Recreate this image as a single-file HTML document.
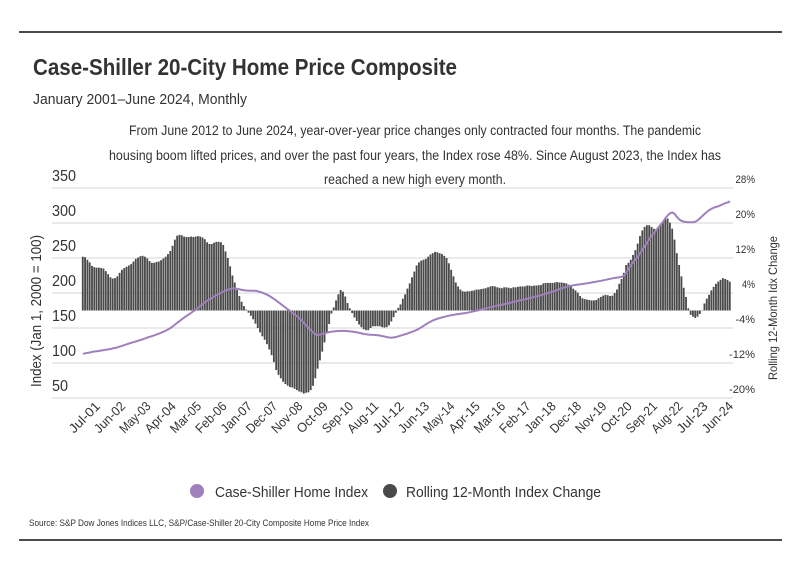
<!DOCTYPE html>
<html><head><meta charset="utf-8"><style>
body{margin:0;background:#fff;width:799px;height:575px;overflow:hidden;font-family:"Liberation Sans Narrow","Liberation Sans",sans-serif;}
svg text{font-family:"Liberation Sans Narrow","Liberation Sans",sans-serif;fill:#333;}
</style></head><body>
<svg id="chart" width="799" height="575" xmlns="http://www.w3.org/2000/svg">
<line x1="19" y1="32" x2="782" y2="32" stroke="#111" stroke-width="1.5"/>
<text x="33" y="75" font-size="23" font-weight="bold" fill="#333" textLength="424" lengthAdjust="spacingAndGlyphs">Case-Shiller 20-City Home Price Composite</text>
<text x="33" y="104" font-size="15" textLength="214" lengthAdjust="spacingAndGlyphs">January 2001–June 2024, Monthly</text>
<g font-size="13.5" text-anchor="middle">
<text x="415" y="135" textLength="572" lengthAdjust="spacingAndGlyphs">From June 2012 to June 2024, year-over-year price changes only contracted four months. The pandemic</text>
<text x="415" y="160" textLength="612" lengthAdjust="spacingAndGlyphs">housing boom lifted prices, and over the past four years, the Index rose 48%. Since August 2023, the Index has</text>
<text x="415" y="184" textLength="182" lengthAdjust="spacingAndGlyphs">reached a new high every month.</text>
</g>
<g id="grid"></g><g id="bars"></g><g id="line"></g><g id="axes"></g>
<text transform="translate(41,311) rotate(-90)" font-size="15" text-anchor="middle" textLength="152" lengthAdjust="spacingAndGlyphs">Index (Jan 1, 2000 = 100)</text>
<text transform="translate(777,308) rotate(-90)" font-size="12" text-anchor="middle" textLength="144" lengthAdjust="spacingAndGlyphs">Rolling 12-Month Idx Change</text>
<g>
<circle cx="197" cy="491" r="7" fill="#9e80bd"/>
<text x="215" y="497" font-size="15" textLength="153" lengthAdjust="spacingAndGlyphs">Case-Shiller Home Index</text>
<circle cx="390" cy="491" r="7" fill="#4a4a4a"/>
<text x="406" y="497" font-size="15" textLength="195" lengthAdjust="spacingAndGlyphs">Rolling 12-Month Index Change</text>
</g>
<text x="29" y="526" font-size="9.5" textLength="340" lengthAdjust="spacingAndGlyphs">Source:  S&amp;P Dow Jones Indices LLC, S&amp;P/Case-Shiller 20-City Composite Home Price Index</text>
<line x1="19" y1="540" x2="782" y2="540" stroke="#111" stroke-width="1.5"/>
</svg>
<script>
const leftTicks=[50,100,150,200,250,300,350];
const rightTicks=["-20%","-12%","-4%","4%","12%","20%","28%"];
const rightTickValues=[-20,-12,-4,4,12,20,28];
const xLabels=["Jul-01","Jun-02","May-03","Apr-04","Mar-05","Feb-06","Jan-07","Dec-07","Nov-08","Oct-09","Sep-10","Aug-11","Jul-12","Jun-13","May-14","Apr-15","Mar-16","Feb-17","Jan-18","Dec-18","Nov-19","Oct-20","Sep-21","Aug-22","Jul-23","Jun-24"];
const yoyChange=[
12.3,12.2,11.6,11,10.2,9.9,9.8,9.8,9.7,9.6,9.0,8.3,
7.6,7.3,7.4,7.8,8.6,9.3,9.7,10.0,10.3,10.6,11.2,11.8,
12.1,12.4,12.5,12.3,11.9,11.3,10.9,10.9,11.1,11.2,11.5,11.9,
12.3,12.9,13.6,14.8,16.2,17.1,17.3,17.2,16.9,16.8,16.8,16.9,
16.8,16.9,17.0,16.9,16.7,16.3,15.6,15.2,15.2,15.5,15.7,15.7,
15.6,15.0,13.5,12.0,10.1,8.0,6.4,4.7,3.3,2.0,1.0,0.2,
-0.5,-1.2,-2.0,-3.0,-4.0,-5.0,-5.9,-6.7,-7.7,-8.9,-10.2,-11.8,
-13.6,-14.7,-15.5,-16.3,-16.8,-17.2,-17.5,-17.6,-17.9,-18.2,-18.5,-18.7,
-19.0,-18.8,-18.7,-18.2,-17.2,-15.5,-13.3,-11.4,-9.4,-7.3,-5.1,-3.1,
-0.7,0.7,2.3,3.7,4.7,4.3,3.2,1.7,0.5,-0.6,-1.6,-2.4,
-3.2,-3.8,-4.3,-4.5,-4.5,-4.0,-3.6,-3.6,-3.6,-3.6,-3.8,-3.9,
-3.8,-3.4,-2.5,-1.5,-0.5,0.6,1.4,2.7,3.7,5.0,6.2,7.6,
8.9,10.3,11.0,11.4,11.6,11.8,12.3,12.8,13.1,13.4,13.3,13.1,
12.9,12.5,12.0,10.8,9.3,7.8,6.4,5.5,4.8,4.4,4.3,4.4,
4.4,4.5,4.6,4.8,4.8,4.9,5.0,5.1,5.3,5.5,5.6,5.5,
5.3,5.2,5.1,5.3,5.3,5.2,5.1,5.3,5.3,5.4,5.5,5.5,
5.5,5.7,5.7,5.6,5.7,5.7,5.8,5.8,6.2,6.3,6.3,6.3,
6.3,6.4,6.5,6.4,6.4,6.3,6.2,5.9,5.5,5.0,4.6,4.1,
3.3,2.8,2.6,2.5,2.4,2.3,2.3,2.4,2.8,3.1,3.4,3.6,
3.5,3.3,3.4,4.0,4.8,6.1,7.2,8.6,10.4,10.9,11.6,12.7,
13.8,15.3,17.0,18.3,19.1,19.5,19.5,19.1,18.7,18.6,18.9,19.6,
20.4,21.1,21.0,20.1,18.7,16.2,13.1,10.4,7.8,5.2,3.1,0.5,
-1.0,-1.4,-1.7,-1.4,-0.8,0.1,1.6,2.7,3.6,4.6,5.4,6.1,
6.6,7.0,7.4,7.2,7.0,6.6];
const indexValues=[
113,113.8,114.5,115,115.8,116.4,116.8,117.3,117.9,118.5,119,119.5,
120,120.8,121.6,122.5,123.5,124.5,125.6,126.7,127.8,128.8,129.8,130.8,
131.8,132.9,134,135.2,136.4,137.5,138.5,139.6,140.8,142,143.3,144.8,
146.3,148,150,152.4,155,157.6,160.2,162.6,165,167.3,169.5,171.7,
174,176.3,178.8,181.5,184.2,186.8,189,191,193,195,197,198.8,
200.5,202,203.5,204.8,205.8,206.5,206.5,206,205.2,204.5,204,203.6,
203.4,203.3,203.3,203.2,202.5,201.4,200.3,199,197.5,195.7,193.6,191.3,
189,186.5,184,181.5,179,176.6,174.2,171.8,169.3,166.6,163.8,161,
157,153.5,150,146.5,143.5,141,140,140.5,141.5,142.5,143.5,144.2,
144.8,145.2,145.5,145.7,145.8,145.8,145.7,145.5,145.2,144.8,144.3,143.7,
143,142.3,141.6,141,140.6,140.3,140.1,140,139.7,139.2,138.5,137.8,
137,136.4,136.2,136.5,137.2,138.2,139.2,140.2,141.2,142.3,143.5,144.7,
146,147.5,149.2,151.2,153.3,155.4,157.4,159.2,160.8,162.2,163.3,164.3,
165.2,166,166.8,167.6,168.3,168.9,169.5,170,170.4,170.8,171.3,171.9,
172.6,173.3,174,174.8,175.6,176.4,177.2,178,178.8,179.6,180.4,181.2,
182,182.7,183.4,184.1,184.9,185.6,186.4,187.2,188,188.8,189.6,190.4,
191.2,192,192.8,193.6,194.4,195.2,196.1,197,198,199,200,201,
202,203.2,204.4,205.6,206.8,207.9,208.9,209.7,210.4,211,211.5,212,
212.4,212.9,213.4,213.9,214.5,215.1,215.7,216.3,216.9,217.5,218.2,218.9,
219.6,220.3,221,221.6,222,222.5,223.2,225,229,235,240,244,
248,252,257,262,267,272,277,282,286,290,294,298,
302,307,311,314,315,313,308.5,305,303,302,301.5,301,
301,301,302,304,307,310,313,316,318.5,320.5,322,323,
324,325.5,327,328.5,329.5,331];

const NS="http://www.w3.org/2000/svg";
const X0=83,X1=730,n=yoyChange.length;
const step=(X1-X0)/(n-1);
const xPos=i=>X0+i*step;
const yLeft=v=>363-(v-100)*0.7;
const yRight=p=>310.5-p*35/8;
function mk(tag,parent){const e=document.createElementNS(NS,tag);document.getElementById(parent).appendChild(e);return e;}

leftTicks.forEach((t,i)=>{
 const y=yLeft(t);
 const g=mk('line','grid');
 
 
 g.setAttribute('x1',52);g.setAttribute('x2',733);g.setAttribute('y1',y);g.setAttribute('y2',y);
 g.setAttribute('stroke','#d6d6d6');g.setAttribute('stroke-width','1');
 const tx=mk('text','axes');
 
 
 tx.setAttribute('x',52);tx.setAttribute('y',y-7);tx.setAttribute('font-size','16');
 tx.setAttribute('textLength',String(t).length*8);tx.setAttribute('lengthAdjust','spacingAndGlyphs');
 tx.textContent=t;
});
rightTickValues.forEach((p,i)=>{
 const tx=mk('text','axes');
 
 
 tx.setAttribute('x',755);tx.setAttribute('y',yRight(p)-5);tx.setAttribute('font-size','11');tx.setAttribute('text-anchor','end');
 tx.setAttribute('textLength',rightTicks[i].length*6.5);tx.setAttribute('lengthAdjust','spacingAndGlyphs');
 tx.textContent=rightTicks[i];
});
yoyChange.forEach((v,i)=>{
 const r=mk('rect','bars');
 
 
 const y0=yRight(0),y1=yRight(v);
 r.setAttribute('x',xPos(i)-step/2);r.setAttribute('width',step*0.8);
 r.setAttribute('y',Math.min(y0,y1));r.setAttribute('height',Math.abs(y1-y0));
 r.setAttribute('fill','#4a4a4a');
});
const pl=mk('polyline','line');


pl.setAttribute('points',indexValues.map((v,i)=>xPos(i).toFixed(1)+','+yLeft(v).toFixed(1)).join(' '));
pl.setAttribute('fill','none');pl.setAttribute('stroke','#9e80bd');pl.setAttribute('stroke-width','2');
xLabels.forEach((l,k)=>{
 const i=6+k*11;
 const tx=mk('text','axes');
 
 
 const x=xPos(i)+4,y=407;
 tx.setAttribute('transform','translate('+x+','+y+') rotate(-45)');
 tx.setAttribute('text-anchor','end');tx.setAttribute('font-size','13');
 tx.setAttribute('textLength',38);tx.setAttribute('lengthAdjust','spacingAndGlyphs');
 tx.textContent=l;
});
</script>
</body></html>
